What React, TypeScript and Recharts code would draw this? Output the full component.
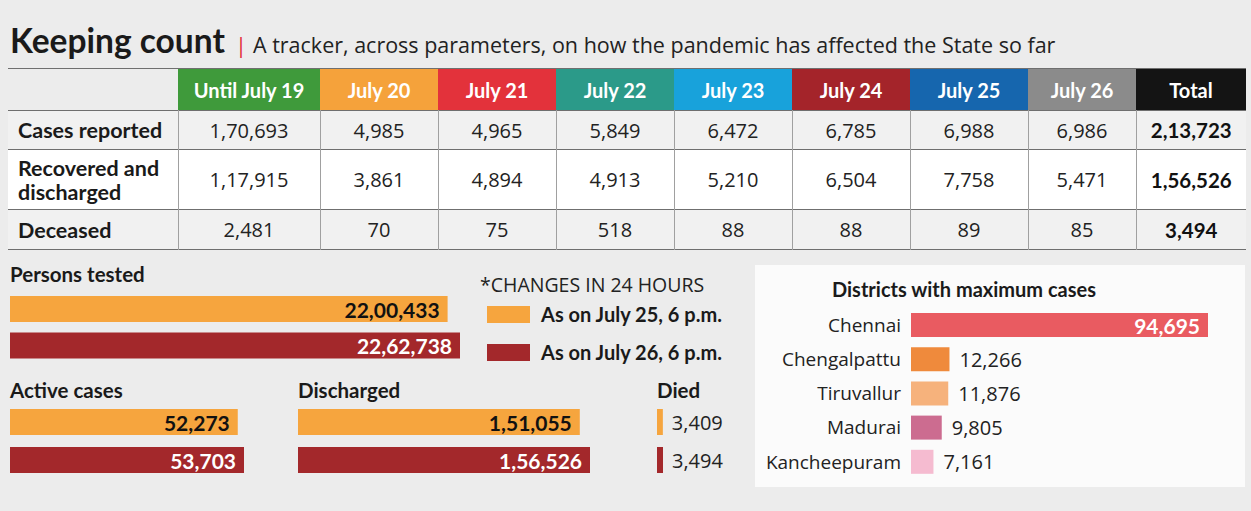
import { BarChart, Bar, XAxis, YAxis, Cell, LabelList } from "recharts"

// table: daily figures
const dates = ["Until July 19", "July 20", "July 21", "July 22", "July 23", "July 24", "July 25", "July 26"];
const rowLabels = ["Cases reported", "Recovered and discharged", "Deceased"];
const casesReported = [170693, 4985, 4965, 5849, 6472, 6785, 6988, 6986];
const recovered = [117915, 3861, 4894, 4913, 5210, 6504, 7758, 5471];
const deceased = [2481, 70, 75, 518, 88, 88, 89, 85];
const totals = [213723, 156526, 3494];

// 24 hour snapshots
const snapshotLabels = ["As on July 25, 6 p.m.", "As on July 26, 6 p.m."];
const personsTested = [2200433, 2262738];
const activeCases = [52273, 53703];
const discharged = [151055, 156526];
const died = [3409, 3494];

// districts
const districts = ["Chennai", "Chengalpattu", "Tiruvallur", "Madurai", "Kancheepuram"];
const districtCases = [94695, 12266, 11876, 9805, 7161];

const headerColors = ["#3f9a3b", "#f5a23b", "#e3323b", "#2b9a89", "#18a2db", "#a4242a", "#1666ae", "#8b8b8b", "#141414"];
const snapshotColors = ["#f6a53e", "#a3282b"];
const districtColors = ["#e95b61", "#ef8a3c", "#f6b27c", "#cc6c90", "#f5bbd0"];

const SANS = "'Open Sans', sans-serif";
const BOLD = "Lato, 'Open Sans', sans-serif";

// 22,62,738 style grouping
function fmtIN(n: number) {
  const s = String(n);
  if (s.length <= 3) return s;
  let rest = s.slice(0, -3);
  const parts: string[] = [];
  while (rest.length > 2) {
    parts.unshift(rest.slice(-2));
    rest = rest.slice(0, -2);
  }
  if (rest) parts.unshift(rest);
  return parts.join(",") + "," + s.slice(-3);
}

const colWidths = [170, 142, 118, 118, 118, 118, 118, 118, 108, 110];
const rowHeights = [39, 60, 40];

function DataTable() {
  const rows = [casesReported, recovered, deceased];
  const line = "1.5px solid #6f6f6f";
  const vline = "1px solid #a0a0a0";
  return (
    <table style={{ position: "absolute", left: 8, top: 68, borderCollapse: "collapse", tableLayout: "fixed", width: 1238 }}>
      <colgroup>
        {colWidths.map((w, i) => <col key={i} style={{ width: w }} />)}
      </colgroup>
      <tbody>
        <tr style={{ height: 42, borderTop: line }}>
          <td />
          {[...dates, "Total"].map((d, i) => (
            <td key={d} style={{ background: headerColors[i], color: "#fff", font: `700 20px ${BOLD}`, textAlign: "center", padding: 0 }}>{d}</td>
          ))}
        </tr>
        {rows.map((vals, r) => (
          <tr key={r} style={{ height: rowHeights[r], borderTop: line, borderBottom: line, background: r === 1 ? "#ffffff" : "#f1f1f1" }}>
            <td style={{ font: `700 21.5px ${BOLD}`, color: "#1a1a1a", padding: "0 0 0 10px", lineHeight: "24px", borderRight: vline }}>
              {r === 1 ? <>Recovered and<br />discharged</> : rowLabels[r]}
            </td>
            {vals.map((v, i) => (
              <td key={i} style={{ font: `400 20px ${SANS}`, color: "#222", textAlign: "center", padding: 0, borderRight: vline }}>{fmtIN(v)}</td>
            ))}
            <td style={{ font: `700 20.5px ${BOLD}`, color: "#111", textAlign: "center", padding: 0 }}>{fmtIN(totals[r])}</td>
          </tr>
        ))}
      </tbody>
    </table>
  );
}

interface SnapProps {
  values: number[];
  left: number;
  top: number;
  width: number;
  height: number;
  barPx: number;
  outside?: boolean;
}

function SnapshotBars({ values, left, top, width, height, barPx, outside }: SnapProps) {
  const data = values.map((v, i) => ({ name: snapshotLabels[i], value: v }));
  const max = Math.max(...values);
  const renderLabel = (p: any) => {
    const { x, y, width: w, height: h, value, index } = p;
    if (outside) {
      return (
        <text x={x + w + 9} y={y + h / 2} dominantBaseline="central" fontFamily={SANS} fontSize={20} fill="#222">
          {fmtIN(value)}
        </text>
      );
    }
    return (
      <text x={x + w - 8} y={y + h / 2} dominantBaseline="central" textAnchor="end" fontFamily={BOLD} fontWeight={700} fontSize={21} fill={index === 0 ? "#111" : "#fff"}>
        {fmtIN(value)}
      </text>
    );
  };
  return (
    <div style={{ position: "absolute", left, top }}>
      <BarChart width={width} height={height} data={data} layout="vertical" margin={{ top: 0, right: 0, bottom: 0, left: 0 }}>
        <XAxis type="number" hide domain={[0, (max * width) / barPx]} allowDataOverflow />
        <YAxis type="category" dataKey="name" hide />
        <Bar dataKey="value" barSize={26} isAnimationActive={false}>
          {data.map((d, i) => <Cell key={d.name} fill={snapshotColors[i]} />)}
          <LabelList dataKey="value" content={renderLabel} />
        </Bar>
      </BarChart>
    </div>
  );
}

function DistrictChart() {
  const data = districts.map((d, i) => ({ name: d, value: districtCases[i] }));
  const width = 490;
  const axisW = 156;
  const max = Math.max(...districtCases);
  const renderLabel = (p: any) => {
    const { x, y, width: w, height: h, value, index } = p;
    if (index === 0) {
      return (
        <text x={x + w - 8} y={y + h / 2} dominantBaseline="central" textAnchor="end" fontFamily={BOLD} fontWeight={700} fontSize={21} fill="#fff">
          {fmtIN(value)}
        </text>
      );
    }
    return (
      <text x={x + w + 10} y={y + h / 2} dominantBaseline="central" fontFamily={SANS} fontSize={20} fill="#222">
        {fmtIN(value)}
      </text>
    );
  };
  return (
    <div style={{ position: "absolute", left: 755, top: 308 }}>
      <BarChart width={width} height={171} data={data} layout="vertical" margin={{ top: 0, right: 0, bottom: 0, left: 0 }}>
        <XAxis type="number" hide domain={[0, (max * (width - axisW)) / 297]} allowDataOverflow />
        <YAxis
          type="category"
          dataKey="name"
          width={axisW}
          tickLine={false}
          axisLine={false}
          tickMargin={4}
          tick={{ fontSize: 19, fill: "#222", fontFamily: SANS }}
        />
        <Bar dataKey="value" barSize={24} isAnimationActive={false}>
          {data.map((d, i) => <Cell key={d.name} fill={districtColors[i]} />)}
          <LabelList dataKey="value" content={renderLabel} />
        </Bar>
      </BarChart>
    </div>
  );
}

const label = (text: string, left: number, top: number) => (
  <div style={{ position: "absolute", left, top, font: `700 20.5px ${BOLD}`, color: "#1a1a1a", lineHeight: "22px", whiteSpace: "nowrap" }}>{text}</div>
);

export default function App() {
  return (
    <div style={{ position: "absolute", left: 0, top: 0, width: 1251, height: 511, background: "#ececec", overflow: "hidden" }}>
      <div style={{ position: "absolute", left: 10, top: 20, whiteSpace: "nowrap", display: "flex", alignItems: "baseline" }}>
        <span style={{ font: `700 33.5px ${BOLD}`, color: "#1a1a1a" }}>Keeping count</span>
        <span style={{ font: `400 22px ${SANS}`, color: "#e3323b", margin: "0 6px 0 10px" }}>|</span>
        <span style={{ font: `400 21.5px ${SANS}`, color: "#222" }}>
          A tracker, across parameters, on how the pandemic has affected the State so far
        </span>
      </div>

      <DataTable />

      {label("Persons tested", 10, 263)}
      <SnapshotBars values={personsTested} left={10} top={291} width={465} height={73} barPx={450} />

      <div style={{ position: "absolute", left: 480, top: 271, font: `400 19.5px ${SANS}`, color: "#222", whiteSpace: "nowrap" }}>*CHANGES IN 24 HOURS</div>
      {snapshotLabels.map((s, i) => (
        <div key={s} style={{ position: "absolute", left: 487, top: i === 0 ? 302 : 340, display: "flex", alignItems: "center", whiteSpace: "nowrap" }}>
          <div style={{ width: 43, height: 17, background: snapshotColors[i], marginRight: 11 }} />
          <span style={{ font: `700 20px ${BOLD}`, color: "#1a1a1a" }}>{s}</span>
        </div>
      ))}

      {label("Active cases", 10, 379)}
      {label("Discharged", 298, 379)}
      {label("Died", 657, 379)}
      <SnapshotBars values={activeCases} left={10} top={403} width={260} height={76} barPx={234} />
      <SnapshotBars values={discharged} left={298} top={403} width={310} height={76} barPx={292} />
      <SnapshotBars values={died} left={657} top={403} width={90} height={76} barPx={6} outside />

      <div style={{ position: "absolute", left: 755, top: 265, width: 490, height: 222, background: "#fbfbfb" }} />
      <div style={{ position: "absolute", left: 832, top: 277, font: `700 20px ${BOLD}`, color: "#1a1a1a", whiteSpace: "nowrap" }}>Districts with maximum cases</div>
      <DistrictChart />
    </div>
  );
}
